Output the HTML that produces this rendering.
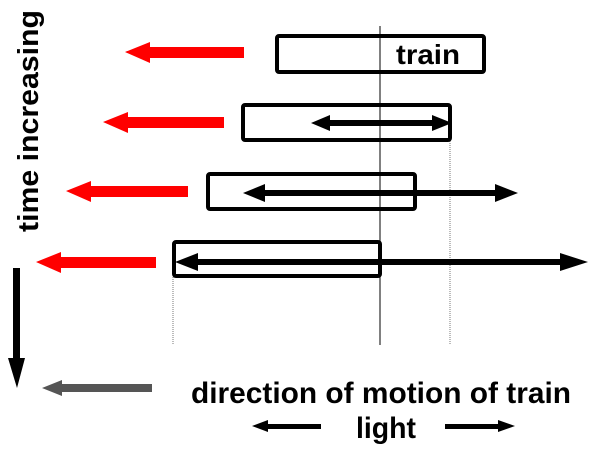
<!DOCTYPE html>
<html><head><style>
html,body{margin:0;padding:0;background:#fff}
svg{display:block}
text{font-family:"Liberation Sans",sans-serif;fill:#000;font-weight:bold}
</style></head><body>
<svg width="600" height="454" viewBox="0 0 600 454">
<line x1="380" y1="26" x2="380" y2="345" stroke="#000" stroke-width="1"/>
<line x1="450" y1="141" x2="450" y2="345" stroke="#777" stroke-width="1" stroke-dasharray="1,1"/>
<line x1="173" y1="277" x2="173" y2="345" stroke="#777" stroke-width="1" stroke-dasharray="1,1"/>
<g fill="none" stroke="#000" stroke-width="4">
<rect x="277" y="36" width="207" height="36" rx="2"/>
<rect x="243" y="105" width="207" height="35" rx="2"/>
<rect x="208" y="174" width="207" height="35" rx="2"/>
<rect x="174" y="242" width="206" height="34" rx="2"/>
</g>
<text x="396" y="64" font-size="28" textLength="64" lengthAdjust="spacingAndGlyphs">train</text>
<g fill="#f00">
<rect x="145" y="47" width="99" height="11"/><polygon points="125,52 150,42 150,63"/>
<rect x="123" y="117" width="101" height="11"/><polygon points="103,122 128,112 128,133"/>
<rect x="86" y="186" width="102" height="11"/><polygon points="66,191 91,181 91,202"/>
<rect x="56" y="257" width="100" height="11"/><polygon points="36,262 61,252 61,273"/>
</g>
<g fill="#000">
<rect x="325" y="120" width="112" height="6"/><polygon points="311,123 330,115 330,131"/><polygon points="452,123 432,115 432,131"/>
<rect x="260" y="190" width="240" height="6"/><polygon points="243,193 265,184 265,202"/><polygon points="518,193 495,184 495,202"/>
<rect x="190" y="259" width="380" height="6"/><polygon points="175,262 198,253 198,271"/><polygon points="588,262 560,253 560,271"/>
<rect x="13" y="268" width="7" height="95"/><polygon points="8,358 25,358 17,388"/>
<rect x="265" y="424" width="56" height="5"/><polygon points="252,426 268,420 268,432"/>
<rect x="445" y="424" width="56" height="5"/><polygon points="515,426 498,420 498,432"/>
</g>
<g fill="#555">
<rect x="58" y="384" width="94" height="8"/><polygon points="42,388 62,380 62,396"/>
</g>
<text x="191" y="403" font-size="30" textLength="380" lengthAdjust="spacingAndGlyphs">direction of motion of train</text>
<text x="356" y="438" font-size="30" textLength="60" lengthAdjust="spacingAndGlyphs">light</text>
<text transform="translate(38,232) rotate(-90)" font-size="29" textLength="222" lengthAdjust="spacingAndGlyphs">time increasing</text>
</svg>
</body></html>
